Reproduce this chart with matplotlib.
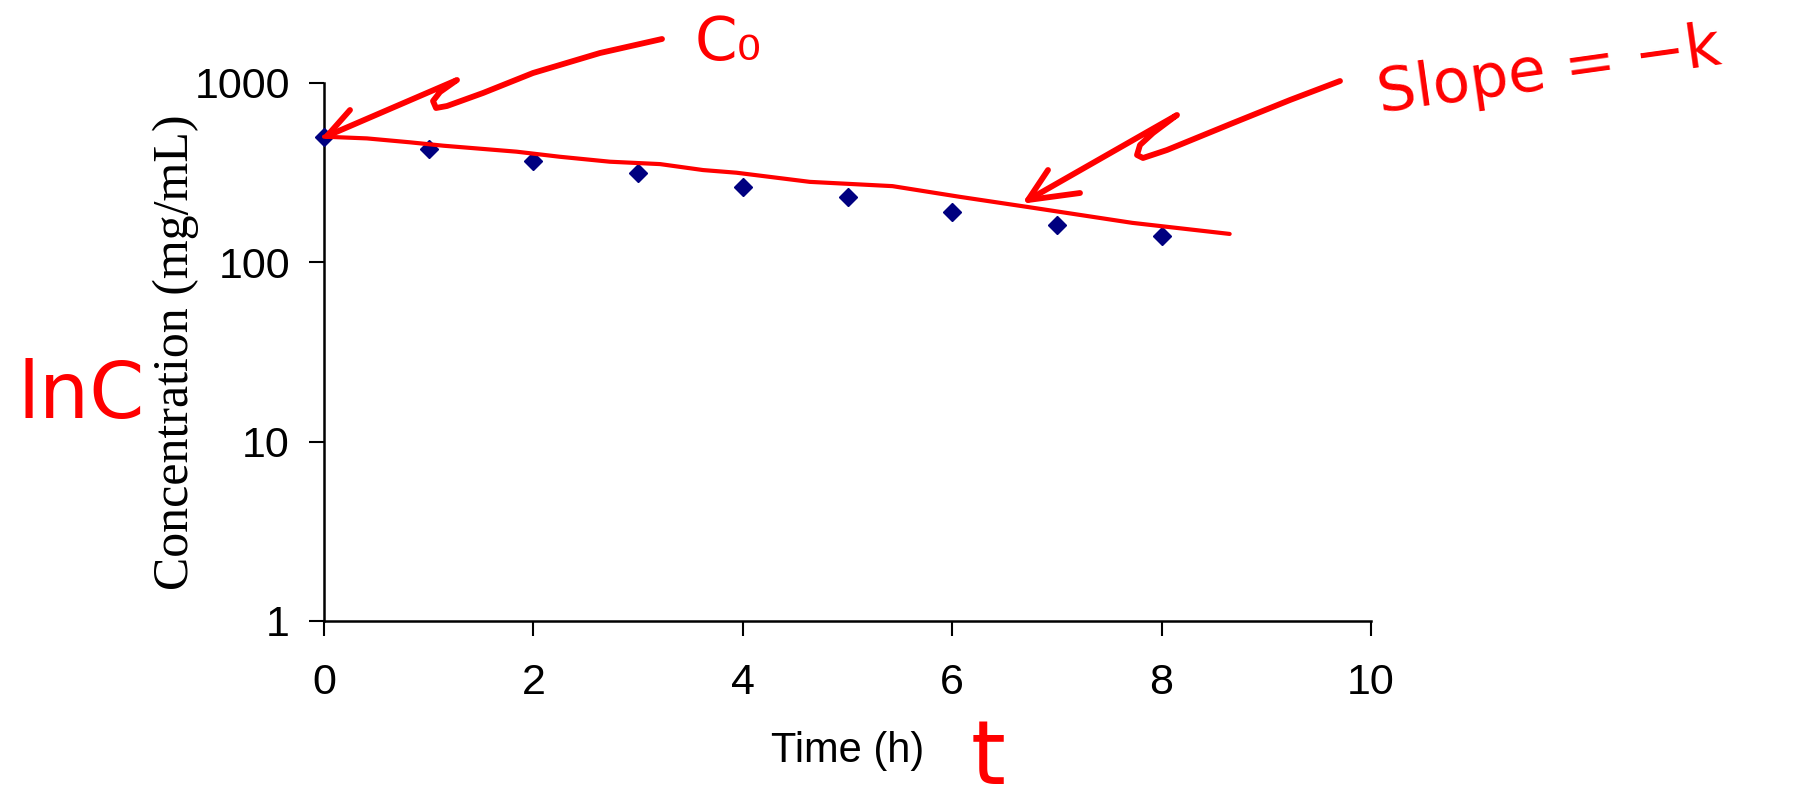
import matplotlib
matplotlib.use("Agg")
import matplotlib.pyplot as plt
from matplotlib.ticker import NullLocator, FixedLocator, FixedFormatter

# ---- data ----
time_h = [0, 1, 2, 3, 4, 5, 6, 7, 8]
conc = [500, 428, 369, 315, 263, 230, 191, 161, 140]

# hand-drawn fitted line (data coordinates)
fit_t = [0, 0.41, 0.82, 1.14, 1.84, 2.25, 2.73, 3.21, 3.62, 3.94, 4.64, 5.43, 6.07, 6.71, 7.72, 8.65]
fit_c = [502, 491, 467, 447, 414, 388, 364, 353, 327, 316, 281, 266, 232, 204, 166, 144]

x_ticks = [0, 2, 4, 6, 8, 10]
x_tick_labels = ["0", "2", "4", "6", "8", "10"]
y_ticks = [1, 10, 100, 1000]
y_tick_labels = ["1", "10", "100", "1000"]

x_label = "Time (h)"
y_label = "Concentration (mg/mL)"

# hand-written annotation strokes (figure pixel coordinates)
c0_arrow_x = [662, 600, 533, 483, 447, 436, 433, 440, 457, 327]
c0_arrow_y = [39, 53, 73, 93, 106, 108, 101, 92, 80, 136]
c0_barb_x = [350, 327]
c0_barb_y = [110, 136]

slope_arrow_x = [1340, 1290, 1233, 1167, 1143, 1137, 1140, 1153, 1177, 1028]
slope_arrow_y = [81, 100, 123, 150, 158, 155, 145, 133, 115, 200]
slope_barb_x = [1048, 1028, 1080]
slope_barb_y = [170, 200, 193]

W, H = 1806, 806
fig = plt.figure(figsize=(W / 100, H / 100), dpi=100)
fig.patch.set_facecolor("white")

ax = fig.add_axes([324 / W, 1 - 621 / H, (1371 - 324) / W, (621 - 83) / H])
ax.set_yscale("log")
ax.set_xlim(0, 10)
ax.set_ylim(1, 1000)

ax.plot(time_h, conc, ls="none", marker="D", ms=9, color="#000080",
        clip_on=False, zorder=3)
ax.plot(fit_t, fit_c, color="#ff0000", lw=3, clip_on=False,
        solid_capstyle="round", solid_joinstyle="round", zorder=4)

for s in ["top", "right"]:
    ax.spines[s].set_visible(False)
for s in ["left", "bottom"]:
    ax.spines[s].set_linewidth(1.8)
    ax.spines[s].set_color("black")

ax.xaxis.set_major_locator(FixedLocator(x_ticks))
ax.xaxis.set_major_formatter(FixedFormatter(x_tick_labels))
ax.yaxis.set_major_locator(FixedLocator(y_ticks))
ax.yaxis.set_major_formatter(FixedFormatter(y_tick_labels))
ax.yaxis.set_minor_locator(NullLocator())
ax.xaxis.set_minor_locator(NullLocator())

ax.tick_params(axis="x", direction="out", length=10.5, width=1.5, pad=20)
ax.tick_params(axis="y", direction="out", length=10.5, width=1.5, pad=14)
for lab in ax.get_xticklabels() + ax.get_yticklabels():
    lab.set_fontfamily("Liberation Sans")
    lab.set_fontsize(31)

ax.set_xlabel(x_label, fontfamily="Liberation Sans", fontsize=30, labelpad=20)
ax.set_ylabel(y_label, fontfamily="Liberation Serif", fontsize=36)
ax.yaxis.set_label_coords(-0.119, 0.5)

# overlay for hand-written annotations
ov = fig.add_axes([0, 0, 1, 1], zorder=10)
ov.set_xlim(0, W)
ov.set_ylim(H, 0)
ov.axis("off")
ov.patch.set_alpha(0)

stroke = dict(color="#ff0000", lw=4.2, solid_capstyle="round", solid_joinstyle="round")
ov.plot(c0_arrow_x, c0_arrow_y, **stroke)
ov.plot(c0_barb_x, c0_barb_y, **stroke)
ov.plot(slope_arrow_x, slope_arrow_y, **stroke)
ov.plot(slope_barb_x, slope_barb_y, **stroke)

red_font = dict(color="#ff0000", family="DejaVu Sans")
ov.text(695, 60, "C\u2080", fontsize=44, ha="left", va="baseline", **red_font)
ov.text(1380, 112, "Slope = \u2212k", fontsize=44, ha="left", va="baseline",
        rotation=8, rotation_mode="anchor", **red_font)
ov.text(18, 418, "lnC", fontsize=57, ha="left", va="baseline", **red_font)
ov.text(988, 760, "t", fontsize=64, ha="center", va="center", **red_font)

fig.savefig("out.png", dpi=100, facecolor="white")
